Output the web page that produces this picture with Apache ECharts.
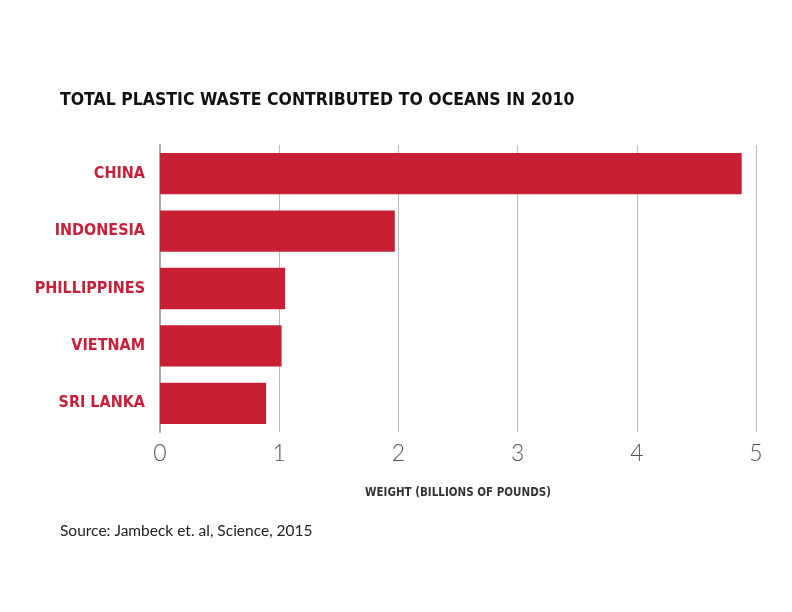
<!DOCTYPE html>
<html><head><meta charset="utf-8">
<script src="https://cdn.jsdelivr.net/npm/echarts@6/dist/echarts.min.js"></script>
<style>html,body{margin:0;padding:0;background:#fff}#c{width:792px;height:612px}</style>
</head><body><div id="c"></div>
<script>
const categories = ["CHINA", "INDONESIA", "PHILLIPPINES", "VIETNAM", "SRI LANKA"];
const values = [4.88, 1.97, 1.05, 1.02, 0.89];
const titleText = "TOTAL PLASTIC WASTE CONTRIBUTED TO OCEANS IN 2010";
const axisName = "WEIGHT (BILLIONS OF POUNDS)";
const sourceText = "Source: Jambeck et. al, Science, 2015";

const condensed = '"DejaVu Sans Condensed", "Liberation Sans Narrow", sans-serif';
const chart = echarts.init(document.getElementById('c'), null, {renderer: 'canvas'});
chart.setOption({
  backgroundColor: '#fff',
  animation: false,
  title: [
    {text: titleText, left: 55, top: 91, padding: [0,5,0,5],
     textStyle: {fontFamily: condensed, fontWeight: 'bold', fontSize: 17.5, color: '#111'}},
    {text: sourceText, left: 55, top: 518,
     textStyle: {fontFamily: 'Lato', fontWeight: 'normal', fontSize: 15.5, color: '#222'}}
  ],
  grid: {left: 160, right: 36, top: 145, bottom: 180, containLabel: false},
  xAxis: {
    type: 'value', min: 0, max: 5, interval: 1,
    name: axisName, nameLocation: 'middle', nameGap: 55,
    nameTextStyle: {fontFamily: condensed, fontWeight: 'bold', fontSize: 11.5, color: '#333'},
    axisLine: {show: false}, axisTick: {show: false},
    axisLabel: {fontFamily: 'Lato', fontWeight: 300, fontSize: 23, color: '#555', margin: 10},
    splitLine: {show: true, lineStyle: {color: '#bbb', width: 1}}
  },
  yAxis: {
    type: 'category', data: categories, inverse: true,
    axisLine: {show: true, lineStyle: {color: '#aaa', width: 2}},
    axisTick: {show: false},
    axisLabel: {fontFamily: condensed, fontWeight: 'bold', fontSize: 16, color: '#c8203a', margin: 15}
  },
  series: [{
    type: 'bar', data: values, barCategoryGap: '28%',
    itemStyle: {color: '#c72035'}
  }]
});
</script></body></html>
